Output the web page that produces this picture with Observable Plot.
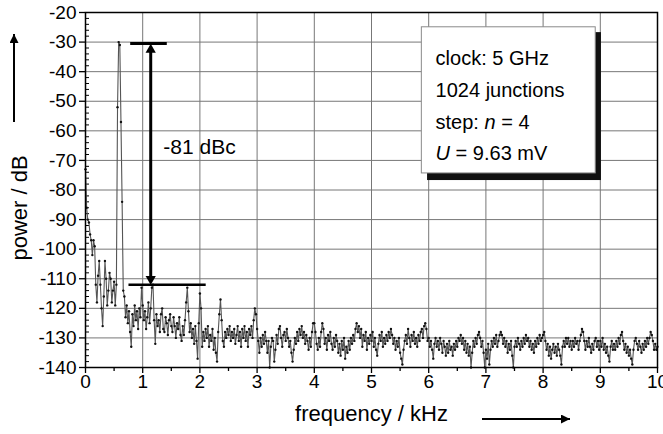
<!DOCTYPE html>
<html><head><meta charset="utf-8">
<script src="https://cdn.jsdelivr.net/npm/d3@7"></script>
<script src="https://cdn.jsdelivr.net/npm/@observablehq/plot@0.6"></script>
<style>body{margin:0;background:#fff}</style>
</head><body><div id="chart"></div>
<script>
// Spectrum samples, 0.02 kHz apart; one array per kHz (power in dB)
const freqStep = 0.02;
const spectrum0 = [-73,-86,-90,-91,-95,-97,-102,-97,-99,-112,-118,-109,-104,-112,-120,-126,-116,-104,-110,-119,-114,-108,-110,-118,-114,-111,-119,-112,-52,-30,-31,-57,-84,-114,-116,-123,-119,-125,-121,-128,-133,-122,-126,-119,-124,-121,-127,-120,-123,-113];
const spectrum1 = [-119,-124,-121,-127,-123,-118,-125,-120,-113,-112,-124,-132,-122,-126,-124,-128,-122,-120,-127,-128,-123,-125,-129,-124,-122,-126,-128,-123,-126,-130,-125,-127,-123,-129,-131,-126,-129,-124,-118,-113,-121,-128,-125,-130,-127,-132,-126,-131,-137,-125];
const spectrum2 = [-115,-120,-133,-128,-131,-127,-130,-126,-133,-129,-131,-127,-134,-130,-135,-138,-128,-122,-117,-124,-131,-133,-128,-130,-127,-129,-126,-131,-128,-130,-127,-132,-129,-126,-131,-128,-133,-127,-130,-126,-131,-128,-133,-127,-129,-126,-130,-124,-120,-122];
const spectrum3 = [-127,-131,-135,-130,-133,-129,-132,-128,-131,-135,-131,-140,-133,-130,-131,-138,-134,-129,-132,-127,-126,-130,-133,-129,-128,-131,-127,-130,-133,-131,-135,-138,-134,-130,-132,-128,-131,-127,-129,-126,-130,-128,-132,-129,-131,-134,-130,-133,-128,-125];
const spectrum4 = [-125,-128,-132,-134,-130,-133,-128,-125,-127,-132,-130,-134,-129,-131,-128,-132,-134,-130,-133,-129,-131,-135,-132,-136,-131,-134,-130,-137,-133,-135,-131,-134,-130,-132,-129,-131,-127,-125,-128,-126,-130,-127,-133,-129,-131,-128,-134,-130,-132,-129];
const spectrum5 = [-131,-128,-133,-130,-134,-136,-132,-129,-131,-128,-133,-130,-132,-129,-131,-128,-130,-127,-129,-132,-130,-134,-131,-133,-130,-135,-137,-139,-134,-131,-129,-132,-127,-130,-133,-129,-131,-128,-132,-130,-133,-129,-131,-128,-127,-130,-126,-125,-127,-131];
const spectrum6 = [-130,-133,-131,-134,-137,-132,-130,-133,-131,-134,-130,-132,-135,-131,-133,-136,-132,-135,-131,-134,-133,-136,-132,-134,-131,-133,-130,-131,-129,-132,-130,-134,-131,-135,-132,-136,-133,-140,-135,-131,-133,-130,-132,-129,-128,-130,-133,-131,-135,-140];
const spectrum7 = [-134,-137,-132,-139,-134,-131,-133,-130,-132,-129,-133,-131,-129,-128,-129,-132,-130,-133,-131,-135,-132,-134,-131,-136,-140,-133,-131,-133,-130,-132,-134,-131,-133,-130,-132,-129,-131,-130,-133,-131,-134,-132,-135,-131,-133,-130,-132,-129,-131,-130];
const spectrum8 = [-129,-128,-131,-134,-132,-136,-133,-137,-134,-132,-135,-133,-136,-132,-134,-136,-139,-133,-131,-133,-130,-132,-130,-133,-131,-134,-131,-133,-130,-132,-131,-134,-131,-129,-127,-128,-131,-134,-131,-133,-130,-133,-135,-132,-134,-131,-130,-133,-131,-134];
const spectrum9 = [-131,-133,-130,-134,-132,-135,-133,-136,-138,-133,-131,-134,-132,-134,-131,-133,-130,-132,-129,-128,-131,-134,-132,-135,-133,-136,-134,-137,-139,-134,-131,-130,-132,-134,-131,-133,-135,-132,-134,-131,-133,-130,-132,-130,-128,-129,-131,-134,-132,-134];
const spectrumLast = [-133]; // at 10 kHz

const xTicks = [0,1,2,3,4,5,6,7,8,9,10];
const xMinor = [0.5,1.5,2.5,3.5,4.5,5.5,6.5,7.5,8.5,9.5];
const yTicks = [-140,-130,-120,-110,-100,-90,-80,-70,-60,-50,-40,-30,-20];
const yMinor = d3.range(-138, -20, 2).filter(v => v % 10 !== 0);

// annotation (data units)
const carrierLevel = [-30.5];
const spurLevel = [-112];
const carrierBar = {x1: 0.79, x2: 1.43};
const spurBar = {x1: 0.76, x2: 2.11};
const arrowX = 1.14;
const arrowSpan = [-32.6, -110.1];
const dbcLabel = [{x: 1.36, y: -65.5, t: "-81 dBc"}];

// legend box (data units)
const legendBox = [{x1: 5.88, x2: 8.92, y1: -25, y2: -74.4}];
const legendShadow = [{x1: 5.98, x2: 9.02, y1: -26.8, y2: -76.8}];
const legendLines = [
  {x: 6.12, y: -35.5, t: "clock: 5 GHz"},
  {x: 6.12, y: -46.3, t: "1024 junctions"},
  {x: 6.12, y: -57.2, t: "step: n = 4"},
  {x: 6.12, y: -67.7, t: "U = 9.63 mV"}
];
const italicWords = ["n", "U"];

const segments = [spectrum0,spectrum1,spectrum2,spectrum3,spectrum4,spectrum5,spectrum6,spectrum7,spectrum8,spectrum9];
const data = segments.flatMap((arr, k) => arr.map((p, i) => ({f: k + i * freqStep, p})));
data.push({f: 10, p: spectrumLast[0]});

const gridColor = "#777";
const fmt = d => String(d);

const chart = Plot.plot({
  width: 663, height: 434,
  marginLeft: 85, marginRight: 6, marginTop: 12, marginBottom: 67,
  style: {fontFamily: "'Liberation Sans', Arial, sans-serif", fontSize: "19px", color: "#000", background: "#fff"},
  x: {domain: [0, 10], label: null},
  y: {domain: [-140, -20], label: null},
  marks: [
    Plot.gridX(xTicks, {stroke: gridColor, strokeOpacity: 1, strokeWidth: 1}),
    Plot.gridY(yTicks, {stroke: gridColor, strokeOpacity: 1, strokeWidth: 1}),
    Plot.axisX(xTicks, {tickSize: 6, tickPadding: 1, tickFormat: fmt, label: null, fontSize: 19, strokeWidth: 1.3}),
    Plot.axisX(xMinor, {tickSize: 4, tickFormat: () => "", label: null, strokeWidth: 1.3}),
    Plot.axisY(yTicks, {tickSize: 6, tickPadding: 3, tickFormat: fmt, label: null, fontSize: 19, strokeWidth: 1.3}),
    Plot.axisY(yMinor, {tickSize: 4, dx: 4, tickFormat: () => "", label: null, strokeWidth: 1}),
    Plot.line(data, {x: "f", y: "p", stroke: "#555", strokeWidth: 1.1}),
    Plot.dot(data, {x: "f", y: "p", r: 1.2, fill: "#111", stroke: "none"}),
    Plot.ruleY(carrierLevel, {x1: carrierBar.x1, x2: carrierBar.x2, stroke: "#000", strokeWidth: 3}),
    Plot.ruleY(spurLevel, {x1: spurBar.x1, x2: spurBar.x2, stroke: "#000", strokeWidth: 2.5}),
    Plot.ruleX([arrowX], {y1: arrowSpan[0], y2: arrowSpan[1], stroke: "#000", strokeWidth: 3}),
    Plot.dot([{x: arrowX, y: arrowSpan[0], a: 0}, {x: arrowX, y: arrowSpan[1], a: 180}], {x: "x", y: "y", rotate: "a", symbol: "triangle", r: 3.8, fill: "#000", stroke: "none"}),
    Plot.text(dbcLabel, {x: "x", y: "y", text: "t", textAnchor: "start", fontSize: 21, fill: "#000"}),
    Plot.rect(legendShadow, {x1: "x1", x2: "x2", y1: "y1", y2: "y2", fill: "#111"}),
    Plot.rect(legendBox, {x1: "x1", x2: "x2", y1: "y1", y2: "y2", fill: "#fff", stroke: "#8a8a8a", strokeWidth: 1}),
    Plot.text(legendLines, {x: "x", y: "y", text: "t", textAnchor: "start", fontSize: 20, fill: "#000", className: "legend-text"}),
    Plot.frame({stroke: "#000", strokeWidth: 1.5}),
    Plot.text(["frequency / kHz"], {frameAnchor: "bottom", dy: 46, lineAnchor: "middle", textAnchor: "middle", fontSize: 22, fill: "#000"}),
    Plot.text(["power / dB"], {frameAnchor: "left", dx: -66, dy: 18, rotate: -90, textAnchor: "middle", lineAnchor: "middle", fontSize: 22, fill: "#000"})
  ]
});

document.getElementById("chart").appendChild(chart);

// italic variables in legend
d3.select(chart).selectAll(".legend-text text").each(function() {
  const txt = this.textContent;
  const sel = d3.select(this);
  sel.text(null);
  txt.split(/(\s)/).forEach(p => {
    const ts = sel.append("tspan").text(p);
    if (italicWords.includes(p)) ts.attr("font-style", "italic");
  });
});

// axis direction arrows
const svg = d3.select(chart);
const defs = svg.append("defs");
defs.append("marker").attr("id", "ah").attr("viewBox", "0 0 10 10").attr("refX", 10).attr("refY", 5)
  .attr("markerWidth", 6).attr("markerHeight", 4.5).attr("markerUnits", "strokeWidth").attr("orient", "auto")
  .append("path").attr("d", "M0,0L10,5L0,10z").attr("fill", "#000");
svg.append("line").attr("x1", 14).attr("y1", 122).attr("x2", 14).attr("y2", 34)
  .attr("stroke", "#000").attr("stroke-width", 2).attr("marker-end", "url(#ah)");
svg.append("line").attr("x1", 482).attr("y1", 419).attr("x2", 570).attr("y2", 419)
  .attr("stroke", "#000").attr("stroke-width", 2).attr("marker-end", "url(#ah)");
</script>
</body></html>
